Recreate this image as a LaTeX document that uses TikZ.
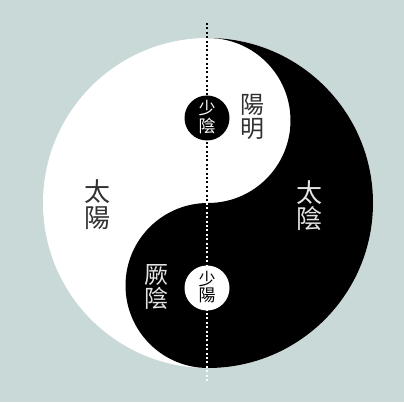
\documentclass[tikz,border=0pt]{standalone}
\usepackage{fontspec}
\newfontfamily\cjk{Noto Sans CJK TC}
\definecolor{bg}{RGB}{201,217,216}
\definecolor{darktxt}{RGB}{50,50,50}
\definecolor{lighttxt}{RGB}{228,228,228}
\tikzset{
  lbl/.style={align=center, inner sep=0pt},
  dots/.style={line width=1.7pt, dash pattern=on 2pt off 2.4pt},
}
\begin{document}
\begin{tikzpicture}[x=1pt,y=1pt]
\useasboundingbox (0,0) rectangle (404,402);
\fill[bg] (0,0) rectangle (404,402);
% yin-yang
\coordinate (C) at (208,199);
\coordinate (T) at (208,364);
\fill[white] (C) circle[radius=165];
\fill[black] (T) arc[start angle=90, end angle=-90, radius=165]
  arc[start angle=-90, end angle=-270, radius=82.5]
  arc[start angle=-90, end angle=90, radius=82.5] -- cycle;
% dotted axis
\coordinate (top) at (207,379);
\coordinate (mid) at (207,199);
\coordinate (bot) at (207,19);
\draw[dots, black] (top) -- (mid);
\draw[dots, white] (mid) -- (bot);
% small circles
\node[circle, fill=black, minimum size=45pt, inner sep=0pt] (shaoyin) at (207,284) {};
\node[circle, fill=white, minimum size=45pt, inner sep=0pt] (shaoyang) at (207,114) {};
% labels
\node[lbl, text=white, font=\cjk\fontsize{17}{17.5}\selectfont] (shaoyinlbl) at (207,285) {少\\陰};
\node[lbl, text=black, font=\cjk\fontsize{17}{16.5}\selectfont] (shaoyanglbl) at (207,115) {少\\陽};
\node[lbl, text=darktxt, font=\cjk\fontsize{24}{24}\selectfont] (yangming) at (252,285.5) {陽\\明};
\node[lbl, text=darktxt, font=\cjk\fontsize{26}{26}\selectfont] (taiyang) at (97,197) {太\\陽};
\node[lbl, text=lighttxt, font=\cjk\fontsize{26}{26}\selectfont] (taiyin) at (309,196.5) {太\\陰};
\node[lbl, text=lighttxt, font=\cjk\fontsize{24}{23.5}\selectfont] (jueyin) at (156,115) {厥\\陰};
\end{tikzpicture}
\end{document}
